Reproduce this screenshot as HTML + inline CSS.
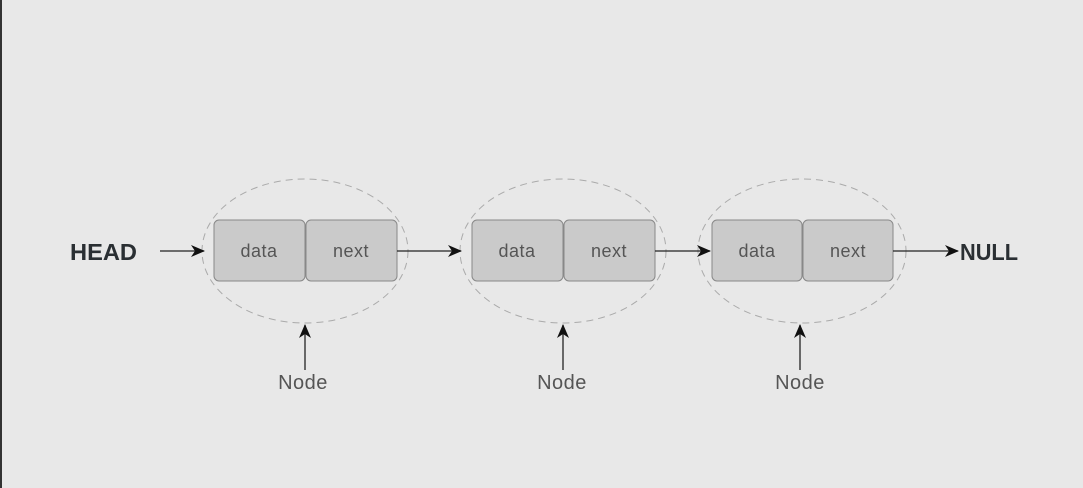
<!DOCTYPE html>
<html><head><style>
html,body{margin:0;padding:0;background:#e8e8e8;}
svg{display:block}
</style></head><body>
<svg width="1083" height="488" viewBox="0 0 1083 488" xmlns="http://www.w3.org/2000/svg">
<defs>
<marker id="a" markerWidth="14" markerHeight="12" refX="13" refY="6" orient="auto" markerUnits="userSpaceOnUse">
<path d="M0,0 L14,6 L0,12 L4,6 Z" fill="#111"/>
</marker>
</defs>
<rect width="1083" height="488" fill="#e8e8e8"/>
<rect x="0" y="0" width="2" height="488" fill="#333"/>
<g fill="none" stroke="#aaa" stroke-width="1" stroke-dasharray="7,5">
<ellipse cx="305" cy="251" rx="103" ry="72"/>
<ellipse cx="563" cy="251" rx="103" ry="72"/>
<ellipse cx="802" cy="251" rx="104" ry="72"/>
</g>
<g fill="#cacaca" stroke="#888" stroke-width="1">
<rect x="214" y="220" width="91" height="61" rx="5"/>
<rect x="306" y="220" width="91" height="61" rx="5"/>
<rect x="472" y="220" width="91" height="61" rx="5"/>
<rect x="564" y="220" width="91" height="61" rx="5"/>
<rect x="712" y="220" width="90" height="61" rx="5"/>
<rect x="803" y="220" width="90" height="61" rx="5"/>
</g>
<g font-family="Liberation Sans, sans-serif" font-size="18" fill="#555" text-anchor="middle" letter-spacing="0.5">
<text x="259" y="257">data</text><text x="351" y="257">next</text>
<text x="517" y="257">data</text><text x="609" y="257">next</text>
<text x="757" y="257">data</text><text x="848" y="257">next</text>
<text x="303" y="389" font-size="20">Node</text>
<text x="562" y="389" font-size="20">Node</text>
<text x="800" y="389" font-size="20">Node</text>
</g>
<g stroke="#222" stroke-width="1.3" marker-end="url(#a)">
<line x1="160" y1="251" x2="204" y2="251"/>
<line x1="397" y1="251" x2="461" y2="251"/>
<line x1="655" y1="251" x2="710" y2="251"/>
<line x1="893" y1="251" x2="958" y2="251"/>
<line x1="305" y1="370" x2="305" y2="325"/>
<line x1="563" y1="370" x2="563" y2="325"/>
<line x1="800" y1="370" x2="800" y2="325"/>
</g>
<g font-family="Liberation Sans, sans-serif" font-weight="bold" font-size="23" fill="#2a2f33">
<text x="70" y="260" textLength="67" lengthAdjust="spacingAndGlyphs">HEAD</text>
<text x="960" y="260" textLength="58" lengthAdjust="spacingAndGlyphs">NULL</text>
</g>
</svg>
</body></html>
